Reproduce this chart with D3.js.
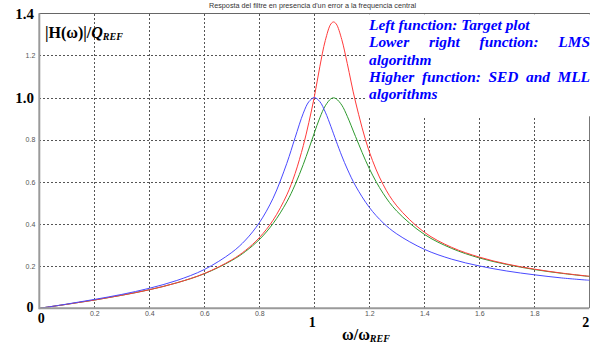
<!DOCTYPE html>
<html>
<head>
<meta charset="utf-8">
<script src="https://cdn.jsdelivr.net/npm/d3@7"></script>
<style>
  body { margin: 0; background: #fff; }
  svg { display: block; }
</style>
</head>
<body>
<script>
// normalised frequency w/wREF (sample points)
const omega = [0, 0.1, 0.2, 0.3, 0.4, 0.5, 0.6, 0.7, 0.75, 0.8, 0.85, 0.9, 0.93, 0.96, 0.98, 1.0,
  1.02, 1.04, 1.06, 1.07, 1.08, 1.1, 1.12, 1.15, 1.2, 1.25, 1.3, 1.4, 1.5, 1.6, 1.7, 1.8, 1.9, 2.0];

// |H(w)|/QREF for each curve
const target = [0, 0.020, 0.042, 0.066, 0.095, 0.132, 0.184, 0.265, 0.324, 0.406, 0.522, 0.688, 0.809, 0.926, 0.980, 1.000,
  0.981, 0.931, 0.864, 0.828, 0.792, 0.723, 0.661, 0.581, 0.479, 0.406, 0.353, 0.280, 0.233, 0.201, 0.177, 0.159, 0.144, 0.133];
const lms = [0, 0.019, 0.039, 0.062, 0.088, 0.121, 0.164, 0.227, 0.270, 0.326, 0.402, 0.505, 0.586, 0.683, 0.756, 0.832,
  0.904, 0.961, 0.994, 0.999, 0.994, 0.964, 0.911, 0.815, 0.663, 0.546, 0.461, 0.351, 0.284, 0.239, 0.208, 0.184, 0.166, 0.151];
const sedMll = [0, 0.019, 0.039, 0.062, 0.088, 0.121, 0.165, 0.230, 0.275, 0.335, 0.418, 0.538, 0.639, 0.772, 0.881, 1.003,
  1.146, 1.271, 1.349, 1.359, 1.349, 1.275, 1.161, 0.979, 0.743, 0.588, 0.486, 0.361, 0.289, 0.243, 0.210, 0.186, 0.167, 0.152];

const gridX = [0.2, 0.4, 0.6, 0.8, 1.0, 1.2, 1.4, 1.6, 1.8];
const gridY = [0.2, 0.4, 0.6, 0.8, 1.0, 1.2];
const smallXTicks = [0.2, 0.4, 0.6, 0.8, 1.2, 1.4, 1.6, 1.8];
const smallYTicks = [0.2, 0.4, 0.6, 0.8, 1.2];

const titleText = "Resposta del filtre en presencia d'un error a la frequencia central";
const legendLines = [
  {text: "Left function: Target plot", justify: false},
  {text: "Lower right function: LMS", justify: true},
  {text: "algorithm", justify: false},
  {text: "Higher function: SED and MLL", justify: true},
  {text: "algorithms", justify: false}
];

const width = 602, height = 350;
const x = d3.scaleLinear().domain([0, 2]).range([39.3, 589.3]);
const y = d3.scaleLinear().domain([0, 1.4]).range([308.3, 13.3]);

const svg = d3.select("body").append("svg")
  .attr("width", width)
  .attr("height", height)
  .attr("viewBox", [0, 0, width, height]);

// grid
const gx = svg.append("g")
  .attr("transform", `translate(0,${y(0)})`)
  .call(d3.axisBottom(x).tickValues(gridX).tickSize(-(y(0) - y(1.4))).tickFormat(""));
const gy = svg.append("g")
  .attr("transform", `translate(${x(0)},0)`)
  .call(d3.axisLeft(y).tickValues(gridY).tickSize(-(x(2) - x(0))).tickFormat(""));
[gx, gy].forEach(g => {
  g.select(".domain").remove();
  g.selectAll("line")
    .attr("stroke", "#555")
    .attr("stroke-dasharray", "2,2")
    .attr("shape-rendering", "crispEdges");
});

// frame
svg.append("line").attr("x1", x(0)).attr("x2", x(2)).attr("y1", y(1.4)).attr("y2", y(1.4))
  .attr("stroke", "#666").attr("shape-rendering", "crispEdges");
svg.append("line").attr("x1", x(2)).attr("x2", x(2)).attr("y1", y(1.4)).attr("y2", y(0))
  .attr("stroke", "#777").attr("shape-rendering", "crispEdges");

// curves
const line = d3.line()
  .x((d, i) => x(omega[i]))
  .y(d => y(d))
  .curve(d3.curveCatmullRom);

const series = [
  {values: lms, color: "#2e9a2e"},
  {values: sedMll, color: "#ff3a3a"},
  {values: target, color: "#4a4aff"}
];
svg.append("g").selectAll("path")
  .data(series)
  .join("path")
  .attr("d", d => line(d.values))
  .attr("fill", "none")
  .attr("stroke", d => d.color)
  .attr("stroke-width", 1);

// axis lines (thick gray)
svg.append("line").attr("x1", x(0)).attr("x2", x(0)).attr("y1", y(1.4)).attr("y2", y(0) + 1)
  .attr("stroke", "#9a9a9a").attr("stroke-width", 2);
svg.append("line").attr("x1", x(0)).attr("x2", x(2)).attr("y1", y(0)).attr("y2", y(0))
  .attr("stroke", "#9a9a9a").attr("stroke-width", 2);

// small tick labels
const xt = svg.append("g")
  .attr("transform", `translate(0,${y(0)})`)
  .call(d3.axisBottom(x).tickValues(smallXTicks).tickSize(0).tickPadding(3).tickFormat(d3.format(".1f")));
const yt = svg.append("g")
  .attr("transform", `translate(${x(0) - 4},0)`)
  .call(d3.axisLeft(y).tickValues(smallYTicks).tickSize(0).tickPadding(0).tickFormat(d3.format(".1f")));
[xt, yt].forEach(g => {
  g.select(".domain").remove();
  g.selectAll("text")
    .attr("font-family", "Liberation Sans, Arial, sans-serif")
    .attr("font-size", 7)
    .attr("fill", "#555");
});

// title
svg.append("text")
  .attr("x", 312.5).attr("y", 7.5)
  .attr("text-anchor", "middle")
  .attr("font-family", "Liberation Sans, Arial, sans-serif")
  .attr("font-size", 6.5)
  .attr("fill", "#333")
  .attr("textLength", 207)
  .attr("lengthAdjust", "spacingAndGlyphs")
  .text(titleText);

// big serif labels
const serif = "Liberation Serif, Times New Roman, serif";
function big(tx, ty, str, anchor, size) {
  return svg.append("text")
    .attr("x", tx).attr("y", ty)
    .attr("text-anchor", anchor)
    .attr("font-family", serif)
    .attr("font-weight", "bold")
    .attr("font-size", size)
    .attr("fill", "#000")
    .text(str);
}
big(34, y(1.4) + 6, "1.4", "end", 15);
big(34, y(1.0) + 5, "1.0", "end", 15);
big(33.5, y(0) + 3.5, "0", "end", 14);
big(x(0) + 2, 323, "0", "middle", 14);
big(x(1) - 2, 326.5, "1", "middle", 14);
big(x(2) - 3.5, 326.5, "2", "middle", 14);

// y label
const yl = svg.append("text")
  .attr("x", 45).attr("y", 37.5)
  .attr("font-family", serif)
  .attr("font-weight", "bold")
  .attr("font-size", 16)
  .attr("fill", "#000");
yl.append("tspan").text("|H(\u03c9)|/");
yl.append("tspan").attr("font-style", "italic").text("Q");
yl.append("tspan").attr("font-style", "italic").attr("font-size", 10).attr("dy", 2).text("REF");

// x label
const xl = svg.append("text")
  .attr("x", 342).attr("y", 340)
  .attr("font-family", serif)
  .attr("font-weight", "bold")
  .attr("font-size", 16)
  .attr("fill", "#000");
xl.append("tspan").text("\u03c9/\u03c9");
xl.append("tspan").attr("font-style", "italic").attr("font-size", 10).attr("dy", 2).text("REF");

// legend box
const boxX = 367, boxW = 223;
svg.append("rect")
  .attr("x", boxX - 1).attr("y", y(1.4) + 1)
  .attr("width", boxW + 4).attr("height", 102)
  .attr("fill", "#fff");

const leg = svg.append("g")
  .attr("font-family", serif)
  .attr("font-weight", "bold")
  .attr("font-style", "italic")
  .attr("font-size", 15.4)
  .attr("fill", "#0000ff");

legendLines.forEach((ln, i) => {
  const by = 30 + i * 17.3;
  if (!ln.justify) {
    leg.append("text").attr("x", boxX + 2).attr("y", by).text(ln.text);
    return;
  }
  const words = ln.text.split(" ");
  const nodes = words.map(w => leg.append("text").attr("y", by).text(w));
  const widths = nodes.map(n => n.node().getComputedTextLength());
  const gap = (boxW - 2 - d3.sum(widths)) / (words.length - 1);
  let cx = boxX + 2;
  nodes.forEach((n, k) => {
    n.attr("x", cx);
    cx += widths[k] + gap;
  });
});
</script>
</body>
</html>
